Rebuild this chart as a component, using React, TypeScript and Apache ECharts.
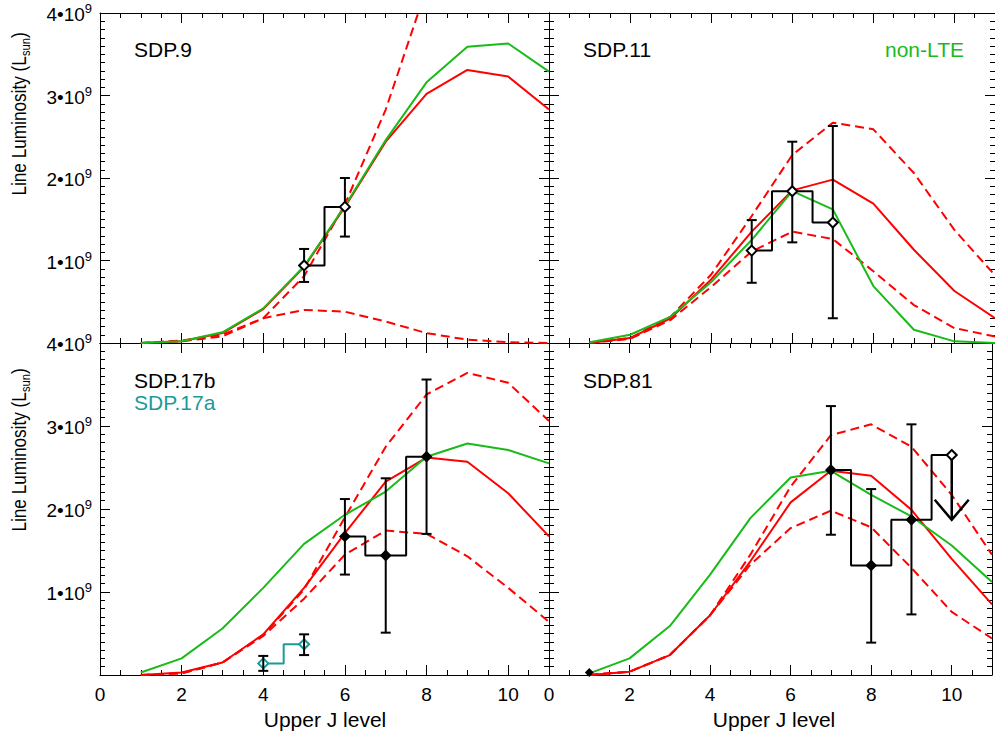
import React, { useEffect, useRef } from "react";
import * as echarts from "echarts";

// Upper J levels of the model curves
const J = [1, 2, 3, 4, 5, 6, 7, 8, 9, 10, 11];
const X_TICKS = [0, 2, 4, 6, 8, 10];
const Y_TICKS = [1, 2, 3, 4]; // units of 10^9 Lsun

// ---- SDP.9 ----
const sdp9NonLTE = [0.0, 0.02, 0.13, 0.42, 0.93, 1.66, 2.46, 3.16, 3.59, 3.63, 3.29];
const sdp9Lte = [0.0, 0.02, 0.12, 0.41, 0.92, 1.65, 2.44, 3.02, 3.31, 3.23, 2.83];
const sdp9LteHi = [0.0, 0.03, 0.1, 0.3, 0.81, 1.68, 2.83, 4.3];
const sdp9LteLo = [0.0, 0.02, 0.08, 0.3, 0.4, 0.38, 0.26, 0.12, 0.04, 0.01, 0.0];
const sdp9ObsJ = [5, 6];
const sdp9Obs = [0.94, 1.65];
const sdp9ObsLo = [0.74, 1.29];
const sdp9ObsHi = [1.14, 2.0];

// ---- SDP.11 ----
const sdp11NonLTE = [0.01, 0.1, 0.32, 0.74, 1.25, 1.84, 1.62, 0.69, 0.16, 0.02, 0.0];
const sdp11Lte = [0.0, 0.06, 0.3, 0.77, 1.35, 1.85, 1.98, 1.69, 1.13, 0.63, 0.3];
const sdp11LteHi = [0.0, 0.06, 0.32, 0.83, 1.54, 2.28, 2.67, 2.59, 2.06, 1.37, 0.82];
const sdp11LteLo = [0.0, 0.05, 0.28, 0.68, 1.11, 1.35, 1.26, 0.87, 0.46, 0.18, 0.08];
const sdp11ObsJ = [5, 6, 7];
const sdp11Obs = [1.12, 1.84, 1.46];
const sdp11ObsLo = [0.73, 1.22, 0.3];
const sdp11ObsHi = [1.49, 2.44, 2.63];

// ---- SDP.17b / SDP.17a ----
const sdp17NonLTE = [0.03, 0.2, 0.56, 1.05, 1.58, 1.93, 2.21, 2.63, 2.79, 2.71, 2.55];
const sdp17Lte = [0.0, 0.03, 0.15, 0.49, 1.05, 1.71, 2.33, 2.62, 2.57, 2.19, 1.67];
const sdp17LteHi = [0.0, 0.02, 0.15, 0.48, 1.03, 1.9, 2.75, 3.38, 3.64, 3.52, 3.06];
const sdp17LteLo = [0.0, 0.02, 0.15, 0.47, 0.92, 1.45, 1.74, 1.7, 1.43, 1.05, 0.64];
const sdp17bObsJ = [6, 7, 8];
const sdp17bObs = [1.67, 1.44, 2.63];
const sdp17bObsLo = [1.21, 0.51, 1.7];
const sdp17bObsHi = [2.12, 2.37, 3.56];
const sdp17aObsJ = [4, 5];
const sdp17aObs = [0.14, 0.37];
const sdp17aObsLo = [0.05, 0.24];
const sdp17aObsHi = [0.23, 0.49];

// ---- SDP.81 ----
const sdp81NonLTE = [0.02, 0.2, 0.59, 1.21, 1.89, 2.38, 2.46, 2.17, 1.91, 1.56, 1.12];
const sdp81Lte = [0.0, 0.04, 0.24, 0.72, 1.37, 2.08, 2.46, 2.4, 1.99, 1.4, 0.85];
const sdp81LteHi = [0.0, 0.04, 0.24, 0.72, 1.45, 2.27, 2.89, 3.02, 2.75, 2.17, 1.45];
const sdp81LteLo = [0.0, 0.04, 0.24, 0.72, 1.33, 1.77, 1.98, 1.78, 1.29, 0.76, 0.44];
const sdp81StepJ = [7, 8, 9, 10];
const sdp81Step = [2.47, 1.32, 1.87, 2.65];
const sdp81LowJ = [1];
const sdp81Low = [0.03];
const sdp81ObsJ = [7, 8, 9];
const sdp81Obs = [2.47, 1.32, 1.87];
const sdp81ObsLo = [1.69, 0.39, 0.73];
const sdp81ObsHi = [3.24, 2.24, 3.02];
const sdp81LimitJ = [10];
const sdp81Limit = [2.65];
const sdp81LimitTip = [1.87];

const FONT = "'Liberation Sans', Arial, Helvetica, sans-serif";
const RED = "#ff0000";
const GREEN = "#19bb19";
const TEAL = "#1a9a9a";
const BLACK = "#000000";

const GRIDS = [
  { left: 100, top: 13, width: 449, height: 330 },
  { left: 549, top: 13, width: 449, height: 330 },
  { left: 100, top: 343, width: 449, height: 332 },
  { left: 549, top: 343, width: 449, height: 332 },
];

const zip = (xs: number[], ys: number[]) => ys.map((y, i) => [xs[i], y]);

function xAxesFor(gi: number, showLabels: boolean) {
  const base = {
    type: "value",
    gridIndex: gi,
    min: 0,
    max: 11,
    splitLine: { show: false },
    axisPointer: { show: false },
  };
  const tick = (len: number) => ({
    show: true,
    inside: true,
    length: len,
    lineStyle: { color: BLACK, width: 1 },
  });
  const major = (pos: string, labels: boolean) => ({
    ...base,
    position: pos,
    interval: 2,
    axisLine: { show: true, onZero: false, lineStyle: { color: BLACK, width: 1 } },
    axisTick: tick(10),
    axisLabel: {
      show: labels,
      margin: 10,
      fontSize: 19,
      fontFamily: FONT,
      color: BLACK,
      formatter: (v: number) => (X_TICKS.indexOf(v) >= 0 ? String(v) : ""),
    },
  });
  const minor = (pos: string) => ({
    ...base,
    position: pos,
    interval: 0.5,
    axisLine: { show: false, onZero: false },
    axisTick: tick(5),
    axisLabel: { show: false },
  });
  return [major("bottom", showLabels), minor("bottom"), major("top", false), minor("top")];
}

function yAxesFor(gi: number, showLabels: boolean) {
  const base = {
    type: "value",
    gridIndex: gi,
    min: 0,
    max: 4,
    interval: 1,
    splitLine: { show: false },
    minorSplitLine: { show: false },
    axisLine: { show: true, onZero: false, lineStyle: { color: BLACK, width: 1 } },
    axisTick: { show: true, inside: true, length: 10, lineStyle: { color: BLACK, width: 1 } },
    minorTick: { show: true, splitNumber: 10, length: 5, lineStyle: { color: BLACK, width: 1 } },
    axisPointer: { show: false },
  };
  return [
    {
      ...base,
      position: "left",
      axisLabel: {
        show: showLabels,
        margin: 8,
        color: BLACK,
        formatter: (v: number) => (Y_TICKS.indexOf(v) >= 0 ? `{m|${v}•10}{s|9}` : ""),
        rich: {
          m: { fontSize: 19, fontFamily: FONT, color: BLACK, lineHeight: 22, verticalAlign: "bottom" },
          s: { fontSize: 13, fontFamily: FONT, color: BLACK, lineHeight: 13, verticalAlign: "top" },
        },
      },
    },
    { ...base, position: "right", axisLabel: { show: false } },
  ];
}

function modelSeries(gi: number, nonLte: number[], lte: number[], hi: number[], lo: number[]) {
  const common = {
    type: "line",
    xAxisIndex: gi * 4,
    yAxisIndex: gi * 2,
    symbol: "none",
    showSymbol: false,
    silent: true,
    clip: true,
  };
  return [
    { ...common, data: zip(J, hi), lineStyle: { color: RED, width: 2, type: [9, 5] }, z: 2 },
    { ...common, data: zip(J, lo), lineStyle: { color: RED, width: 2, type: [9, 5] }, z: 2 },
    { ...common, data: zip(J, lte), lineStyle: { color: RED, width: 2 }, z: 3 },
    { ...common, data: zip(J, nonLte), lineStyle: { color: GREEN, width: 2 }, z: 4 },
  ];
}

function stepSeries(gi: number, xs: number[], ys: number[], color: string) {
  return {
    type: "line",
    xAxisIndex: gi * 4,
    yAxisIndex: gi * 2,
    step: "middle",
    symbol: "none",
    silent: true,
    data: zip(xs, ys),
    lineStyle: { color, width: 2 },
    z: 5,
  };
}

function errSeries(gi: number, xs: number[], lo: number[], hi: number[], z: number) {
  return {
    type: "custom",
    xAxisIndex: gi * 4,
    yAxisIndex: gi * 2,
    silent: true,
    z,
    encode: { x: 0, y: [1, 2] },
    data: xs.map((x, i) => [x, lo[i], hi[i]]),
    renderItem: (_p: any, api: any) => {
      const a = api.coord([api.value(0), api.value(1)]);
      const b = api.coord([api.value(0), api.value(2)]);
      const w = 5;
      const st = { stroke: BLACK, lineWidth: 2 };
      return {
        type: "group",
        children: [
          { type: "line", shape: { x1: a[0], y1: a[1], x2: b[0], y2: b[1] }, style: st },
          { type: "line", shape: { x1: a[0] - w, y1: a[1], x2: a[0] + w, y2: a[1] }, style: st },
          { type: "line", shape: { x1: b[0] - w, y1: b[1], x2: b[0] + w, y2: b[1] }, style: st },
        ],
      };
    },
  };
}

function diamonds(gi: number, xs: number[], ys: number[], fill: string, stroke: string, size: number, z: number) {
  return {
    type: "scatter",
    xAxisIndex: gi * 4,
    yAxisIndex: gi * 2,
    silent: true,
    symbol: "diamond",
    symbolSize: size,
    data: zip(xs, ys),
    itemStyle: { color: fill, borderColor: stroke, borderWidth: 2, opacity: 1 },
    z,
  };
}

function limitSeries(gi: number) {
  return {
    type: "custom",
    xAxisIndex: gi * 4,
    yAxisIndex: gi * 2,
    silent: true,
    z: 7,
    encode: { x: 0, y: [1, 2] },
    data: sdp81LimitJ.map((x, i) => [x, sdp81Limit[i], sdp81LimitTip[i]]),
    renderItem: (_p: any, api: any) => {
      const a = api.coord([api.value(0), api.value(1)]);
      const b = api.coord([api.value(0), api.value(2)]);
      const st = { stroke: BLACK, lineWidth: 2.5, fill: "none" };
      return {
        type: "group",
        children: [
          { type: "line", shape: { x1: a[0], y1: a[1], x2: b[0], y2: b[1] }, style: st },
          {
            type: "polyline",
            shape: { points: [[b[0] - 17, b[1] - 20], [b[0], b[1]], [b[0] + 17, b[1] - 20]] },
            style: st,
          },
        ],
      };
    },
  };
}

function textEl(text: string, x: number, y: number, color: string, align = "left") {
  return {
    type: "text",
    x,
    y,
    silent: true,
    style: { text, fill: color, fontSize: 21, fontFamily: FONT, align, verticalAlign: "middle" },
  };
}

function yTitle(y: number) {
  return {
    type: "text",
    x: 21,
    y,
    rotation: Math.PI / 2,
    scaleX: 0.86,
    silent: true,
    style: {
      text: "{a|Line Luminosity (L}{b|sun}{a|)}",
      align: "center",
      verticalAlign: "middle",
      rich: {
        a: { fontSize: 20, fontFamily: FONT, fill: BLACK, lineHeight: 23, verticalAlign: "top" },
        b: { fontSize: 13, fontFamily: FONT, fill: BLACK, lineHeight: 13, verticalAlign: "bottom" },
      },
    },
  };
}

function xTitle(x: number) {
  return {
    type: "text",
    x,
    y: 719,
    silent: true,
    style: { text: "Upper J level", fill: BLACK, fontSize: 21, fontFamily: FONT, align: "center", verticalAlign: "middle" },
  };
}

export default function App() {
  const ref = useRef<HTMLDivElement>(null);
  useEffect(() => {
    if (!ref.current) return;
    const chart = echarts.init(ref.current, undefined, { renderer: "svg" });
    const option: any = {
      animation: false,
      backgroundColor: "#ffffff",
      grid: GRIDS.map((g) => ({ ...g, containLabel: false, show: false })),
      xAxis: [...xAxesFor(0, false), ...xAxesFor(1, false), ...xAxesFor(2, true), ...xAxesFor(3, true)],
      yAxis: [...yAxesFor(0, true), ...yAxesFor(1, false), ...yAxesFor(2, true), ...yAxesFor(3, false)],
      series: [
        // SDP.9
        ...modelSeries(0, sdp9NonLTE, sdp9Lte, sdp9LteHi, sdp9LteLo),
        stepSeries(0, sdp9ObsJ, sdp9Obs, BLACK),
        errSeries(0, sdp9ObsJ, sdp9ObsLo, sdp9ObsHi, 6),
        diamonds(0, sdp9ObsJ, sdp9Obs, "#ffffff", BLACK, 10, 7),
        // SDP.11
        ...modelSeries(1, sdp11NonLTE, sdp11Lte, sdp11LteHi, sdp11LteLo),
        stepSeries(1, sdp11ObsJ, sdp11Obs, BLACK),
        errSeries(1, sdp11ObsJ, sdp11ObsLo, sdp11ObsHi, 6),
        diamonds(1, sdp11ObsJ, sdp11Obs, "#ffffff", BLACK, 10, 7),
        // SDP.17b / 17a
        ...modelSeries(2, sdp17NonLTE, sdp17Lte, sdp17LteHi, sdp17LteLo),
        stepSeries(2, sdp17bObsJ, sdp17bObs, BLACK),
        diamonds(2, sdp17bObsJ, sdp17bObs, BLACK, BLACK, 9, 6),
        errSeries(2, sdp17bObsJ, sdp17bObsLo, sdp17bObsHi, 7),
        stepSeries(2, sdp17aObsJ, sdp17aObs, TEAL),
        diamonds(2, sdp17aObsJ, sdp17aObs, "#ffffff", TEAL, 10, 6),
        errSeries(2, sdp17aObsJ, sdp17aObsLo, sdp17aObsHi, 7),
        // SDP.81
        ...modelSeries(3, sdp81NonLTE, sdp81Lte, sdp81LteHi, sdp81LteLo),
        stepSeries(3, sdp81StepJ, sdp81Step, BLACK),
        diamonds(3, sdp81LowJ, sdp81Low, BLACK, BLACK, 6, 8),
        diamonds(3, sdp81ObsJ, sdp81Obs, BLACK, BLACK, 9, 6),
        errSeries(3, sdp81ObsJ, sdp81ObsLo, sdp81ObsHi, 7),
        limitSeries(3),
        diamonds(3, sdp81LimitJ, sdp81Limit, "#ffffff", BLACK, 10, 8),
      ],
      graphic: [
        textEl("SDP.9", 134, 49, BLACK),
        textEl("SDP.11", 583, 49, BLACK),
        textEl("non-LTE", 964, 49, GREEN, "right"),
        textEl("SDP.17b", 134, 380, BLACK),
        textEl("SDP.17a", 134, 402, TEAL),
        textEl("SDP.81", 583, 380, BLACK),
        yTitle(114),
        yTitle(450),
        xTitle(325),
        xTitle(774),
      ],
    };
    chart.setOption(option);
    return () => chart.dispose();
  }, []);
  return (
    <div
      ref={ref}
      style={{ position: "absolute", left: 0, top: 0, width: 995, height: 732, background: "#fff" }}
    />
  );
}
